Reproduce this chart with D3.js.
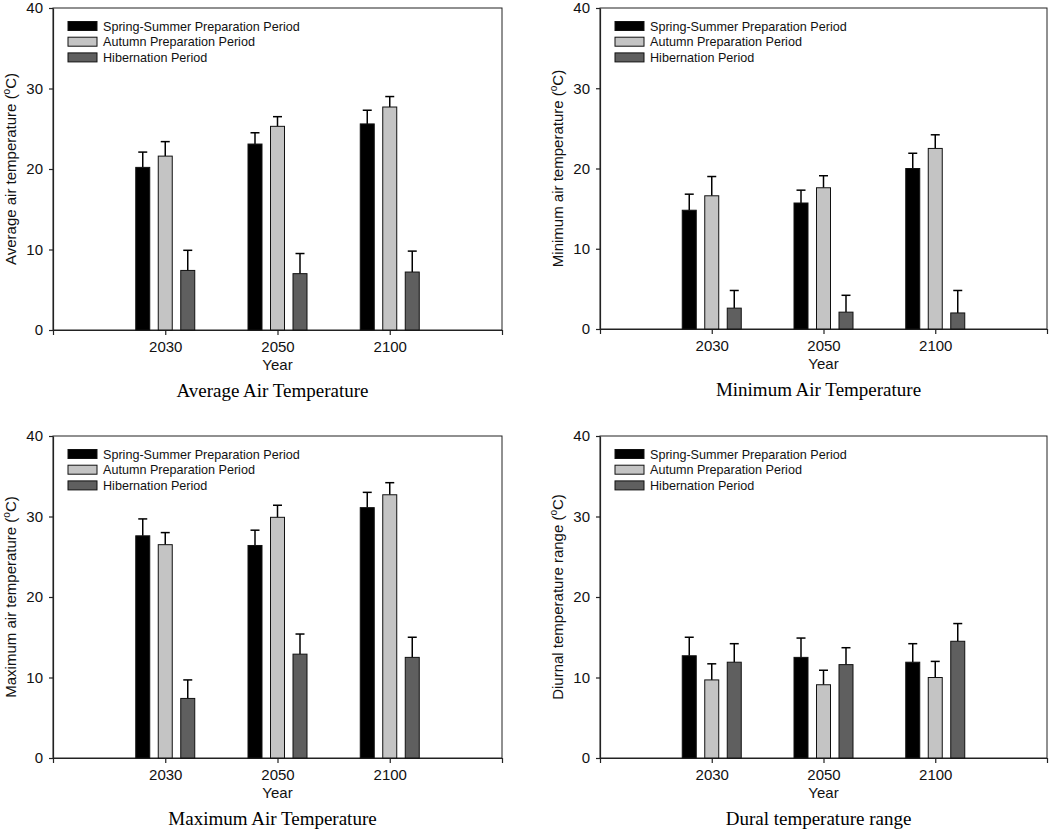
<!DOCTYPE html>
<html><head><meta charset="utf-8">
<script src="https://cdn.jsdelivr.net/npm/d3@7"></script>
<style>body{margin:0;background:#fff}svg{display:block}</style>
</head><body>
<svg id="c" width="1054" height="833"></svg>
<script>
const years = ["2030", "2050", "2100"];
const seriesNames = ["Spring-Summer Preparation Period", "Autumn Preparation Period", "Hibernation Period"];
const yTicks = [0, 10, 20, 30, 40];

// rows: spring-summer, autumn, hibernation; columns: 2030, 2050, 2100
const avgMean = [[20.2, 23.1, 25.6], [21.6, 25.3, 27.7], [7.4, 7.0, 7.2]];
const avgErr  = [[1.9, 1.4, 1.7], [1.8, 1.2, 1.3], [2.5, 2.5, 2.6]];
const minMean = [[14.8, 15.7, 20.0], [16.6, 17.6, 22.5], [2.6, 2.1, 2.0]];
const minErr  = [[2.0, 1.6, 1.9], [2.4, 1.5, 1.7], [2.2, 2.1, 2.8]];
const maxMean = [[27.6, 26.4, 31.1], [26.5, 29.9, 32.7], [7.4, 12.9, 12.5]];
const maxErr  = [[2.1, 1.9, 1.9], [1.5, 1.5, 1.5], [2.3, 2.5, 2.5]];
const dtrMean = [[12.7, 12.5, 11.9], [9.7, 9.1, 10.0], [11.9, 11.6, 14.5]];
const dtrErr  = [[2.3, 2.4, 2.3], [2.0, 1.8, 2.0], [2.3, 2.1, 2.2]];

const yLabels = ["Average air temperature (", "Minimum air temperature (", "Maximum air temperature (", "Diurnal temperature range ("];
const titles = ["Average Air Temperature", "Minimum Air Temperature", "Maximum Air Temperature", "Dural temperature range"];

const colors = ["#000000", "#c4c4c4", "#5f5f5f"];
const svg = d3.select("#c");

const panels = [
  {mean: avgMean, err: avgErr, left: 53, right: 502, top: 8, bottom: 330},
  {mean: minMean, err: minErr, left: 600, right: 1047, top: 8, bottom: 329},
  {mean: maxMean, err: maxErr, left: 53, right: 502, top: 436, bottom: 758},
  {mean: dtrMean, err: dtrErr, left: 600, right: 1047, top: 436, bottom: 758}
];

panels.forEach((p, pi) => {
  const g = svg.append("g");
  const x = d3.scaleLinear().domain([0, years.length + 1]).range([p.left, p.right]);
  const y = d3.scaleLinear().domain([0, 40]).range([p.bottom, p.top]);
  const off = d3.scaleBand().domain(d3.range(seriesNames.length)).range([-29.5, 29.5]).paddingInner(0.378);
  const bw = off.bandwidth();

  // frame
  g.append("rect").attr("x", p.left).attr("y", p.top)
    .attr("width", p.right - p.left).attr("height", p.bottom - p.top)
    .attr("fill", "none").attr("stroke", "#222").attr("stroke-width", 1);

  // axes
  const ya = g.append("g").attr("transform", `translate(${p.left},0)`)
    .call(d3.axisLeft(y).tickValues(yTicks).tickSize(4).tickPadding(6).tickSizeOuter(0));
  const xa = g.append("g").attr("transform", `translate(0,${p.bottom})`)
    .call(d3.axisBottom(x).tickValues(d3.range(0, years.length + 2))
      .tickFormat(i => years[i - 1] || "").tickSize(5).tickPadding(6).tickSizeOuter(0));
  [ya, xa].forEach(a => {
    a.selectAll("text").attr("font-family", "Arial, 'Liberation Sans', sans-serif").attr("font-size", 15).attr("fill", "#111");
    a.selectAll("line,path").attr("stroke", "#222").attr("stroke-width", 1.2);
  });

  // bars
  seriesNames.forEach((s, si) => {
    const sg = g.append("g");
    years.forEach((yr, yi) => {
      const v = p.mean[si][yi], e = p.err[si][yi];
      const bx = x(yi + 1) + off(si);
      const bc = bx + bw / 2;
      sg.append("line").attr("x1", bc).attr("x2", bc).attr("y1", y(v)).attr("y2", y(v + e))
        .attr("stroke", "#000").attr("stroke-width", 1.5);
      sg.append("line").attr("x1", bc - 4.5).attr("x2", bc + 4.5).attr("y1", y(v + e)).attr("y2", y(v + e))
        .attr("stroke", "#000").attr("stroke-width", 1.5);
      sg.append("rect").attr("x", bx).attr("y", y(v)).attr("width", bw).attr("height", y(0) - y(v))
        .attr("fill", colors[si]).attr("stroke", "#111").attr("stroke-width", 1);
    });
  });

  // legend
  const lg = g.append("g").attr("transform", `translate(${p.left + 15},${p.top})`);
  seriesNames.forEach((s, si) => {
    const cy = 18 + si * 15.7;
    lg.append("rect").attr("x", 0).attr("y", cy - 4.5).attr("width", 29).attr("height", 9)
      .attr("fill", colors[si]).attr("stroke", "#111").attr("stroke-width", 1);
    lg.append("text").attr("x", 35).attr("y", cy + 4.5).text(s)
      .attr("font-family", "Arial, 'Liberation Sans', sans-serif").attr("font-size", 12.6).attr("fill", "#111");
  });

  // y label
  const cyMid = (p.top + p.bottom) / 2;
  const yl = g.append("text").attr("transform", `translate(${p.left - 37},${cyMid}) rotate(-90)`)
    .attr("text-anchor", "middle").attr("font-family", "Arial, 'Liberation Sans', sans-serif")
    .attr("font-size", 15).attr("fill", "#111");
  yl.append("tspan").text(yLabels[pi]);
  yl.append("tspan").text("o").attr("font-size", 10).attr("dy", -6);
  yl.append("tspan").text("C)").attr("dy", 6);

  // x label
  const cxMid = (p.left + p.right) / 2;
  g.append("text").attr("x", cxMid).attr("y", p.bottom + 40).attr("text-anchor", "middle")
    .attr("font-family", "Arial, 'Liberation Sans', sans-serif").attr("font-size", 15).attr("fill", "#111")
    .text("Year");

  // title
  g.append("text").attr("x", cxMid - 5).attr("y", p.bottom + 67).attr("text-anchor", "middle")
    .attr("font-family", "'Liberation Serif', 'Times New Roman', serif").attr("font-size", 19).attr("fill", "#000")
    .text(titles[pi]);
});
</script>
</body></html>
